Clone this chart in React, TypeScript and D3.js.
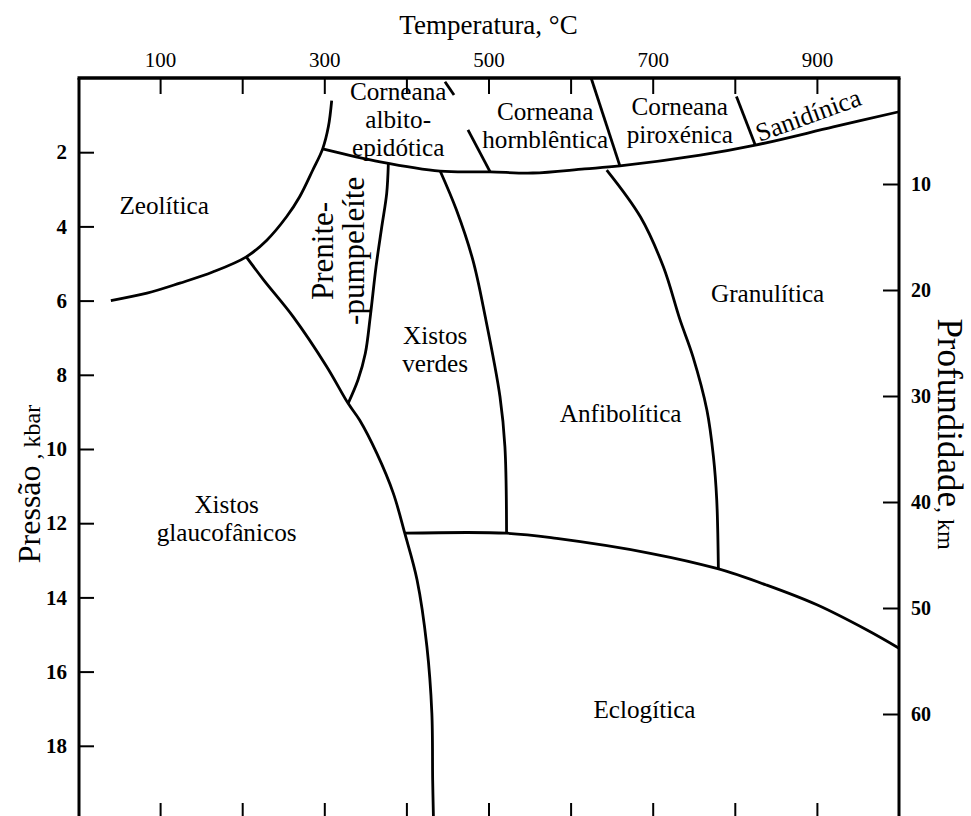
import React, { useEffect, useRef } from 'react';
import * as d3 from 'd3';

// axis ticks
const tempTicks = [100, 200, 300, 400, 500, 600, 700, 800, 900];
const tempLabelled = [100, 300, 500, 700, 900];
const pressureTicks = [2, 4, 6, 8, 10, 12, 14, 16, 18];
const depthTicks = [10, 20, 30, 40, 50, 60];

// facies boundaries as [temperature °C, pressure kbar]
const zeoliteLimit = [[40, 6.0], [84, 5.8], [124, 5.53], [164, 5.23], [205, 4.82], [230, 4.37], [254, 3.74], [270, 3.2], [286, 2.48], [298, 1.91], [305, 1.31], [309, 0.61]];
const hornfelsBase = [[298, 1.91], [368, 2.26], [441, 2.51], [502, 2.53], [554, 2.56], [617, 2.45], [660, 2.37], [758, 2.08], [825, 1.81], [920, 1.32], [1000, 0.91]];
const albiteHornblendeUpper = [[447, 0.1], [458, 0.46]];
const albiteHornblendeLower = [[475, 1.4], [502, 2.53]];
const hornblendePyroxene = [[625, 0], [660, 2.37]];
const pyroxeneSanidinite = [[802, 0.5], [825, 1.81]];
const prehniteGreenschist = [[378, 2.32], [376, 3.11], [370, 4.01], [363, 5.09], [356, 6.43], [350, 7.42], [341, 8.14], [329, 8.77]];
const blueschistLimit = [[205, 4.82], [226, 5.44], [262, 6.43], [303, 7.78], [329, 8.77], [343, 9.22], [364, 10.12], [384, 11.19], [398, 12.27], [413, 13.53], [425, 15.33], [431, 17.12], [432, 18.92], [433, 20]];
const greenschistAmphibolite = [[441, 2.5], [461, 3.56], [481, 4.91], [496, 6.43], [514, 8.59], [520, 9.94], [522, 12.27]];
const amphiboliteGranulite = [[644, 2.48], [685, 3.74], [713, 5.09], [733, 6.5], [749, 7.51], [766, 8.95], [774, 10.21], [778, 11.37], [780, 13.23]];
const eclogiteTop = [[398, 12.27], [522, 12.27], [583, 12.41], [697, 12.81], [778, 13.22], [839, 13.67], [900, 14.2], [961, 14.88], [1000, 15.37]];

// facies names, anchored at [T, P] of the first line's baseline centre
const faciesLabels = [
  { text: ['Zeolítica'], at: [105, 3.67] },
  { text: ['Corneana', 'albito-', 'epidótica'], at: [390, 0.6] },
  { text: ['Corneana', 'hornblêntica'], at: [569, 1.12] },
  { text: ['Corneana', 'piroxénica'], at: [733, 0.99] },
  { text: ['Xistos', 'verdes'], at: [435, 7.18] },
  { text: ['Anfibolítica'], at: [661, 9.26] },
  { text: ['Granulítica'], at: [840, 6.03] },
  { text: ['Xistos', 'glaucofânicos'], at: [181, 11.72] },
  { text: ['Eclogítica'], at: [690, 17.25] },
];
const rotatedLabels = [
  { text: 'Sanidínica', at: [893, 1.22], angle: -20 },
  { text: 'Prenite-', at: [311, 4.66], angle: -90 },
  { text: '-pumpeleíte', at: [348, 4.66], angle: -90 },
];

const FONT = '"Liberation Serif", "Times New Roman", serif';

const App = () => {
  const svgRef = useRef<SVGSVGElement>(null);

  useEffect(() => {
    const svg = d3.select(svgRef.current);
    svg.selectAll('*').remove();

    const width = 971;
    const height = 816;
    const left = 78, right = 899, top = 78, bottom = 820;

    const x = d3.scaleLinear().domain([0, 1000]).range([left, right]);
    const y = d3.scaleLinear().domain([0, 20]).range([top, bottom]);
    const yKm = d3.scaleLinear().domain([0, 70]).range([top, bottom]);

    svg.append('rect').attr('width', width).attr('height', height).attr('fill', 'white');

    const styleAxis = (g, size, weight) => {
      g.attr('font-family', FONT).attr('font-size', size).attr('font-weight', weight);
      g.select('.domain').remove();
      g.selectAll('line').attr('stroke', '#000').attr('stroke-width', 2);
      g.selectAll('text').attr('fill', '#000');
    };

    // top axis with temperature labels
    svg.append('g')
      .attr('transform', `translate(0,${top})`)
      .call(d3.axisTop(x).tickValues(tempTicks).tickSize(-16).tickPadding(11)
        .tickFormat(d => (tempLabelled.includes(+d) ? String(d) : '')))
      .call(g => styleAxis(g, 21, 'normal'));

    // bottom ticks only
    svg.append('g')
      .attr('transform', `translate(0,${bottom})`)
      .call(d3.axisBottom(x).tickValues(tempTicks).tickSize(-17).tickFormat(() => ''))
      .call(g => styleAxis(g, 21, 'normal'));

    // pressure on the left
    svg.append('g')
      .attr('transform', `translate(${left + 1},0)`)
      .call(d3.axisLeft(y).tickValues(pressureTicks).tickSize(-15).tickPadding(12))
      .call(g => styleAxis(g, 21, 'bold'));

    // depth on the right
    svg.append('g')
      .attr('transform', `translate(${right},0)`)
      .call(d3.axisRight(yKm).tickValues(depthTicks).tickSize(-16).tickPadding(12))
      .call(g => styleAxis(g, 20, 'bold'));

    // frame
    svg.append('line').attr('x1', left + 1).attr('x2', left + 1).attr('y1', top).attr('y2', bottom)
      .attr('stroke', '#000').attr('stroke-width', 3);
    svg.append('line').attr('x1', right).attr('x2', right).attr('y1', top).attr('y2', bottom)
      .attr('stroke', '#000').attr('stroke-width', 3);
    svg.append('line').attr('x1', left - 0.5).attr('x2', right + 1.5).attr('y1', top).attr('y2', top)
      .attr('stroke', '#000').attr('stroke-width', 3.5);

    // facies boundaries
    const line = d3.line<number[]>()
      .x(d => x(d[0]))
      .y(d => y(d[1]))
      .curve(d3.curveCatmullRom.alpha(0.5));

    [zeoliteLimit, hornfelsBase, albiteHornblendeUpper, albiteHornblendeLower, hornblendePyroxene,
      pyroxeneSanidinite, prehniteGreenschist, blueschistLimit, greenschistAmphibolite,
      amphiboliteGranulite, eclogiteTop].forEach(pts => {
      svg.append('path')
        .datum(pts)
        .attr('fill', 'none')
        .attr('stroke', '#000')
        .attr('stroke-width', 2.8)
        .attr('stroke-linejoin', 'round')
        .attr('d', line);
    });

    // facies names (one text per line)
    faciesLabels.forEach(l => {
      l.text.forEach((s, i) => {
        svg.append('text')
          .attr('font-family', FONT)
          .attr('font-size', 25.2)
          .attr('text-anchor', 'middle')
          .attr('fill', '#000')
          .attr('x', x(l.at[0]))
          .attr('y', y(l.at[1]) + i * 28)
          .text(s);
      });
    });

    rotatedLabels.forEach(l => {
      svg.append('text')
        .attr('font-family', FONT)
        .attr('font-size', l.angle === -90 ? 31 : 26)
        .attr('text-anchor', 'middle')
        .attr('fill', '#000')
        .attr('transform', `translate(${x(l.at[0])},${y(l.at[1])}) rotate(${l.angle})`)
        .text(l.text);
    });

    // axis titles
    svg.append('text')
      .attr('x', x(500))
      .attr('y', 34)
      .attr('font-family', FONT)
      .attr('font-size', 27)
      .attr('text-anchor', 'middle')
      .text('Temperatura, °C');

    const pTitle = svg.append('text')
      .attr('font-family', FONT)
      .attr('text-anchor', 'middle')
      .attr('transform', `translate(40,484) rotate(-90)`);
    pTitle.append('tspan').attr('font-size', 32).text('Pressão');
    pTitle.append('tspan').attr('font-size', 24).text(' , kbar');

    const dTitle = svg.append('text')
      .attr('font-family', FONT)
      .attr('text-anchor', 'middle')
      .attr('transform', `translate(938,434) rotate(90)`);
    dTitle.append('tspan').attr('font-size', 35).text('Profundidade');
    dTitle.append('tspan').attr('font-size', 24).text(', km');
  }, []);

  return (
    <svg
      ref={svgRef}
      width={971}
      height={816}
      style={{ position: 'absolute', left: 0, top: 0, display: 'block' }}
    />
  );
};

export default App;
